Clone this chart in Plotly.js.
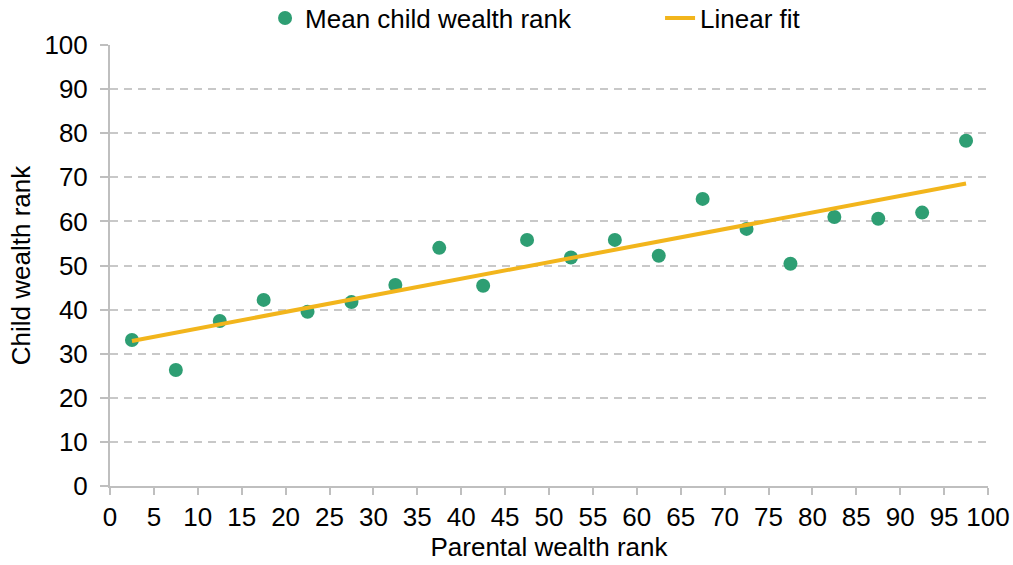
<!DOCTYPE html>
<html>
<head>
<meta charset="utf-8">
<script src="https://cdn.plot.ly/plotly-3.0.1.min.js"></script>
<style>html,body{margin:0;padding:0;background:#fff;}#chart{width:1013px;height:565px;}</style>
</head>
<body>
<div id="chart"></div>
<script>
const parentalRank = [2.5, 7.5, 12.5, 17.5, 22.5, 27.5, 32.5, 37.5, 42.5, 47.5, 52.5, 57.5, 62.5, 67.5, 72.5, 77.5, 82.5, 87.5, 92.5, 97.5];
const meanChildRank = [33.1, 26.3, 37.4, 42.2, 39.5, 41.7, 45.6, 54.0, 45.4, 55.8, 51.8, 55.8, 52.2, 65.1, 58.3, 50.4, 61.0, 60.6, 62.0, 78.3];
const fitX = [2.5, 97.5];
const fitY = [32.9, 68.6];
const xTicks = [0,5,10,15,20,25,30,35,40,45,50,55,60,65,70,75,80,85,90,95,100];
const yTicks = [0,10,20,30,40,50,60,70,80,90,100];

const font = 'Liberation Sans, Arial, sans-serif';
const traces = [
  {x: parentalRank, y: meanChildRank, type: 'scatter', mode: 'markers', name: 'Mean child wealth rank',
   marker: {color: '#2e9e73', size: 14}},
  {x: fitX, y: fitY, type: 'scatter', mode: 'lines', name: 'Linear fit',
   line: {color: '#f2b51c', width: 4}}
];
const layout = {
  width: 1013, height: 565,
  margin: {l: 110, r: 25, t: 45, b: 79, autoexpand: false},
  paper_bgcolor: '#fff', plot_bgcolor: '#fff',
  font: {family: font, size: 26, color: '#000'},
  showlegend: true,
  legend: {orientation: 'h', x: 0.1766, xanchor: 'left', y: 1.061, yanchor: 'middle',
           entrywidth: 350, entrywidthmode: 'pixels',
           font: {family: font, size: 26, color: '#000'}, itemwidth: 30, tracegroupgap: 0},
  xaxis: {range: [0, 100], tickvals: xTicks, ticktext: xTicks.map(String), showgrid: false, zeroline: false,
          showline: true, linecolor: '#bfbfbf', linewidth: 2, ticks: 'outside', ticklen: 7, tickcolor: '#bfbfbf', tickwidth: 2,
          tickfont: {family: font, size: 26}, title: {text: 'Parental wealth rank', font: {family: font, size: 26}, standoff: 2}},
  yaxis: {range: [0, 100], tickvals: yTicks, ticktext: yTicks.map(String), showgrid: true, gridcolor: '#c8c8c8', gridwidth: 2, griddash: '8px,6px',
          zeroline: false, showline: true, linecolor: '#bfbfbf', linewidth: 2, ticks: 'outside', ticklen: 8, tickcolor: '#bfbfbf', tickwidth: 2,
          ticklabelstandoff: 7,
          tickfont: {family: font, size: 26}, title: {text: 'Child wealth rank', font: {family: font, size: 26}, standoff: 6}}
};
Plotly.newPlot('chart', traces, layout, {displayModeBar: false, staticPlot: true});
</script>
</body>
</html>
